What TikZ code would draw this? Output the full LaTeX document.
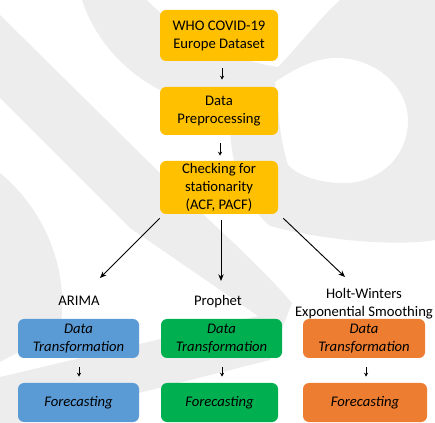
\documentclass[tikz,border=0pt]{standalone}
\usepackage{fontspec}
\setmainfont{Carlito}
\usetikzlibrary{arrows.meta}
\definecolor{wmgray}{HTML}{EDEDED}
\definecolor{boxyellow}{HTML}{FFC000}
\definecolor{boxblue}{HTML}{5B9BD5}
\definecolor{boxgreen}{HTML}{00B050}
\definecolor{boxorange}{HTML}{ED7D31}
\begin{document}
\begin{tikzpicture}
        [x=0.75pt, y=-0.75pt,
        font=\fontsize{11}{13.5}\selectfont,
        stepbox/.style={fill=boxyellow, rounded corners=4.5pt, align=center,
            minimum width=88.5pt, inner sep=0pt},
        modelbox/.style={rounded corners=4.5pt, align=center, minimum height=29.25pt,
            inner sep=0pt, font=\fontsize{11}{13.5}\selectfont\itshape},
        modellabel/.style={align=center, inner sep=0pt},
        smallarrow/.style={-{Stealth[length=3pt, width=3pt]}, line width=0.6pt},
        bigarrow/.style={-{Stealth[length=5pt, width=4pt]}, line width=0.7pt}]
        \useasboundingbox (0,0) rectangle (435,423);
        \begin{scope}
            \clip (0,0) rectangle (435,423);
            \fill[wmgray]
                (0,15) -- (170,183) .. controls (225,235) and (262,268) .. (292,303)
                -- (270,360) -- (0,428) -- (0,377) -- (258,316) -- (130,228)
                -- (0,98) -- cycle;
            \fill[wmgray]
                (0,173) .. controls (45,210) and (70,270) .. (60,330)
                -- (0,362) -- cycle;
            \fill[wmgray, even odd rule]
                (82,0) -- (147,0) .. controls (175,30) and (230,60) .. (278,67)
                .. controls (295,50) and (318,20) .. (340,0) -- (435,0) -- (435,240)
                .. controls (400,246) and (330,242) .. (270,226)
                .. controls (245,205) and (232,170) .. (230,130)
                .. controls (215,100) and (185,95) .. (160,90)
                .. controls (125,72) and (95,40) .. (82,0) -- cycle
                (275,82) .. controls (300,65) and (320,57) .. (340,58)
                .. controls (380,60) and (408,90) .. (408,120)
                .. controls (408,160) and (375,185) .. (340,183)
                .. controls (315,182) and (298,175) .. (288,165)
                .. controls (280,140) and (278,110) .. (275,82) -- cycle;
        \end{scope}
        \node[stepbox, minimum height=38.25pt] (who) at (219,35.5)
            {WHO COVID-19\\Europe Dataset};
        \node[stepbox, minimum height=36pt] (prep) at (219,111)
            {Data\\Preprocessing};
        \node[stepbox, minimum height=39.75pt] (stat) at (219,187.5)
            {Checking for\\stationarity\\(ACF, PACF)};
        \node[modellabel, anchor=base] (arima) at (79,306) {ARIMA};
        \node[modellabel, anchor=base] (prophet) at (218,306) {Prophet};
        \node[modellabel] (hw) at (364,303.4)
            {Holt-Winters\\Exponential Smoothing};
        \node[modelbox, fill=boxblue, minimum width=90.75pt] (arimaDT) at (78.5,338.5)
            {Data\\Transformation};
        \node[modelbox, fill=boxblue, minimum width=90.75pt] (arimaFC) at (78.5,402.5)
            {Forecasting};
        \node[modelbox, fill=boxgreen, minimum width=90.75pt] (prophetDT) at (221.5,338.5)
            {Data\\Transformation};
        \node[modelbox, fill=boxgreen, minimum width=87.75pt] (prophetFC) at (219.5,402.5)
            {Forecasting};
        \node[modelbox, fill=boxorange, minimum width=91.5pt] (hwDT) at (364,338.5)
            {Data\\Transformation};
        \node[modelbox, fill=boxorange, minimum width=93pt] (hwFC) at (365,402.5)
            {Forecasting};
        \draw[smallarrow]
            ([shift={(3,7)}]who.south) -- ([shift={(3,-7)}]prep.north);
        \draw[smallarrow]
            ([shift={(1,8)}]prep.south) -- ([shift={(1,-5)}]stat.north);
        \draw[bigarrow]
            ([shift={(0,4)}]stat.south west) -- ([shift={(21,-28)}]arima.base);
        \draw[bigarrow]
            ([shift={(2,6)}]stat.south) -- ([shift={(3,-25)}]prophet.base);
        \draw[bigarrow]
            ([shift={(5,4)}]stat.south east) -- ([shift={(-19,-26.4)}]hw.center);
        \draw[smallarrow]
            ([shift={(0.5,9)}]arimaDT.south) -- ([shift={(0.5,-6)}]arimaFC.north);
        \draw[smallarrow]
            ([shift={(0.5,9)}]prophetDT.south) -- ([shift={(2.5,-6)}]prophetFC.north);
        \draw[smallarrow]
            ([shift={(2,9)}]hwDT.south) -- ([shift={(1,-6)}]hwFC.north);
        \end{tikzpicture}
\end{document}
